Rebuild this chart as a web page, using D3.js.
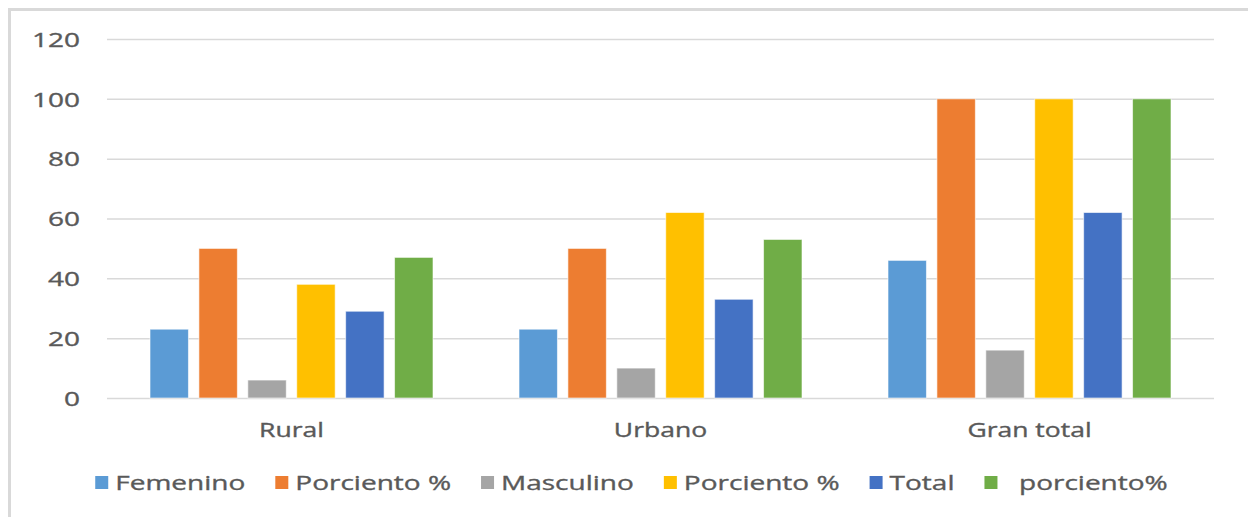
<!DOCTYPE html>
<html>
<head>
<meta charset="utf-8">
<script src="https://cdn.jsdelivr.net/npm/d3@7"></script>
<style>
  body { margin: 0; background: #fff; }
  text { font-family: "Open Sans", sans-serif; fill: #595959; stroke: #595959; stroke-width: 0.35px; }
</style>
</head>
<body>
<div id="chart"></div>
<script>
// data
var categories = ["Rural", "Urbano", "Gran total"];
var seriesNames = ["Femenino", "Porciento %", "Masculino", "Porciento %", "Total", "  porciento%"];
var seriesColors = ["#5b9bd5", "#ed7d31", "#a5a5a5", "#ffc000", "#4472c4", "#70ad47"];
var femenino = [23, 23, 46];
var porcientoFem = [50, 50, 100];
var masculino = [6, 10, 16];
var porcientoMasc = [38, 62, 100];
var total = [29, 33, 62];
var porcientoTotal = [47, 53, 100];
var yTicks = [0, 20, 40, 60, 80, 100, 120];

var seriesValues = [femenino, porcientoFem, masculino, porcientoMasc, total, porcientoTotal];

var width = 1248, height = 517;

var svg = d3.select("#chart").append("svg")
    .attr("width", width)
    .attr("height", height);

// outer frame, only the top and left edges show
svg.append("rect")
    .attr("x", 9.5).attr("y", 9.5)
    .attr("width", width + 20).attr("height", height + 20)
    .attr("fill", "none")
    .attr("stroke", "#d9d9d9")
    .attr("stroke-width", 3);

var x0 = d3.scaleBand()
    .domain(categories)
    .range([107, 1214]);

var x1 = d3.scaleBand()
    .domain(d3.range(seriesNames.length))
    .range([43, x0.bandwidth() - 43])
    .paddingInner(0.214);

var y = d3.scaleLinear()
    .domain([0, 120])
    .range([398, 39]);

// gridlines + y labels
var yAxis = svg.append("g")
    .attr("transform", "translate(107,0)")
    .call(d3.axisLeft(y).tickValues(yTicks).tickSize(-(1214 - 107)).tickPadding(0));

yAxis.select(".domain").remove();
yAxis.selectAll(".tick line")
    .attr("stroke", "#d9d9d9")
    .attr("stroke-width", 1.5);
yAxis.selectAll(".tick text")
    .attr("x", 0)
    .attr("dy", "0.36em")
    .attr("text-anchor", "end")
    .attr("transform", "translate(-27,0) scale(1.4,1)")  // the picture's text is stretched sideways
    .style("font-size", "20px");

// bars
var groups = svg.selectAll(".cat")
    .data(categories)
    .enter().append("g")
    .attr("class", "cat")
    .attr("transform", function (d) { return "translate(" + x0(d) + ",0)"; });

groups.selectAll("rect")
    .data(function (d, i) {
        return seriesValues.map(function (s, k) { return { k: k, v: s[i] }; });
    })
    .enter().append("rect")
    .attr("x", function (d) { return x1(d.k); })
    .attr("width", x1.bandwidth())
    .attr("y", function (d) { return y(d.v); })
    .attr("height", function (d) { return y(0) - y(d.v); })
    .attr("fill", function (d) { return seriesColors[d.k]; })
    .attr("stroke", "#fff")
    .attr("stroke-opacity", 0.6)
    .attr("stroke-width", 1);

// category labels
var xAxis = svg.append("g")
    .attr("transform", "translate(0,398)")
    .call(d3.axisBottom(x0).tickSize(0).tickPadding(0));

xAxis.select(".domain").remove();
xAxis.selectAll(".tick text")
    .attr("y", 0)
    .attr("dy", 0)
    .attr("transform", "translate(0,39) scale(1.36,1)")
    .style("font-size", "19.5px");

// legend, laid out from the measured label widths and centred
var legend = svg.append("g");
var items = legend.selectAll(".item")
    .data(seriesNames)
    .enter().append("g")
    .attr("class", "item");

items.append("rect")
    .attr("width", 13).attr("height", 13)
    .attr("y", 476)
    .attr("fill", function (d, i) { return seriesColors[i]; });

var legStretch = 1.4;
items.append("text")
    .text(function (d) { return d; })
    .style("white-space", "pre")
    .style("font-size", "20px")
    .attr("transform", "translate(20,490) scale(" + legStretch + ",1)");

var xpos = 0, gap = 30, lefts = [];
items.each(function (d, i) {
    lefts.push(xpos);
    var w = d3.select(this).select("text").node().getComputedTextLength() * legStretch;
    xpos += 20 + w + gap;
});
var legendWidth = xpos - gap;
var start = 631.5 - legendWidth / 2;
items.attr("transform", function (d, i) { return "translate(" + (start + lefts[i]) + ",0)"; });
</script>
</body>
</html>
